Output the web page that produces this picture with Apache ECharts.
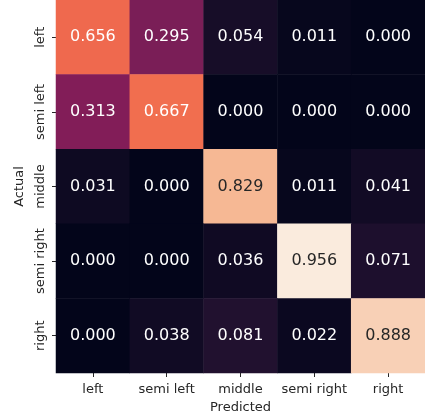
<!DOCTYPE html>
<html>
<head>
<meta charset="utf-8">
<script src="https://cdn.jsdelivr.net/npm/echarts@6/dist/echarts.min.js"></script>
<style>
html,body{margin:0;padding:0;background:#fff;}
#chart{width:425px;height:419px;}
</style>
</head>
<body>
<div id="chart"></div>
<script>
const predictedLabels = ['left', 'semi left', 'middle', 'semi right', 'right'];
const actualLabels = ['left', 'semi left', 'middle', 'semi right', 'right'];
const rowLeft      = [0.656, 0.295, 0.054, 0.011, 0.000];
const rowSemiLeft  = [0.313, 0.667, 0.000, 0.000, 0.000];
const rowMiddle    = [0.031, 0.000, 0.829, 0.011, 0.041];
const rowSemiRight = [0.000, 0.000, 0.036, 0.956, 0.071];
const rowRight     = [0.000, 0.038, 0.081, 0.022, 0.888];
const rows = [rowLeft, rowSemiLeft, rowMiddle, rowSemiRight, rowRight];

const rocket = ['#03051a', '#35193e', '#701f57', '#ad1759', '#e13342', '#f37651', '#f6b48f', '#faebdd'];
const vmax = Math.max(...rows.flat());

const data = [];
rows.forEach((row, r) => {
  row.forEach((v, c) => {
    data.push({
      value: [c, r, v],
      label: { color: v / vmax > 0.75 ? '#262626' : '#ffffff' }
    });
  });
});

const font = 'DejaVu Sans';
const chart = echarts.init(document.getElementById('chart'));
chart.setOption({
  animation: false,
  grid: { left: 56, top: 0, width: 374, height: 374 },
  xAxis: {
    type: 'category',
    data: predictedLabels,
    name: 'Predicted',
    nameLocation: 'middle',
    nameGap: 28,
    nameTextStyle: { fontFamily: font, fontSize: 13, color: '#262626' },
    axisLine: { show: false },
    axisTick: { show: true, alignWithLabel: true, interval: 0, length: 4, lineStyle: { color: '#262626', width: 1 } },
    axisLabel: { fontFamily: font, fontSize: 13, color: '#262626', margin: 10, interval: 0 },
    splitLine: { show: false }
  },
  yAxis: {
    type: 'category',
    data: actualLabels,
    inverse: true,
    name: 'Actual',
    nameLocation: 'middle',
    nameGap: 26,
    nameRotate: 90,
    nameTextStyle: { fontFamily: font, fontSize: 13, color: '#262626' },
    axisLine: { show: false },
    axisTick: { show: true, alignWithLabel: true, interval: 0, length: 4, lineStyle: { color: '#262626', width: 1 } },
    axisLabel: { fontFamily: font, fontSize: 13, color: '#262626', rotate: 90, margin: 9, interval: 0 },
    splitLine: { show: false }
  },
  visualMap: {
    show: false,
    min: 0,
    max: vmax,
    dimension: 2,
    inRange: { color: rocket }
  },
  series: [{
    type: 'heatmap',
    data: data,
    label: {
      show: true,
      fontFamily: font,
      fontSize: 16,
      formatter: p => p.value[2].toFixed(3)
    },
    itemStyle: { borderWidth: 0 },
    emphasis: { disabled: true }
  }]
});
</script>
</body>
</html>
